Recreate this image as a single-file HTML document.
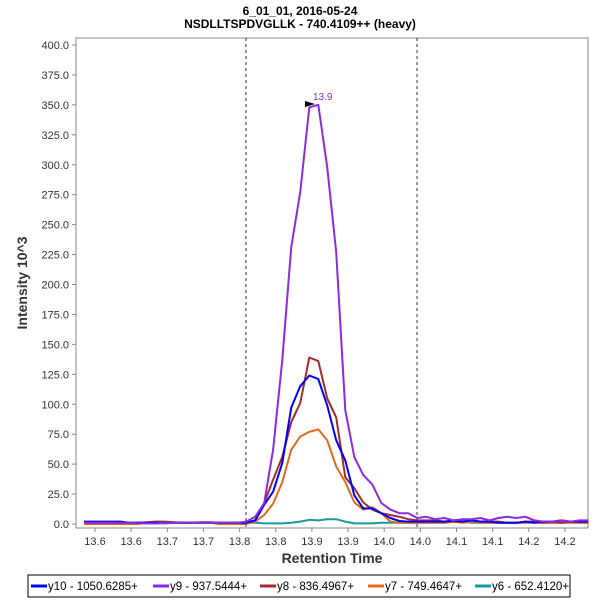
<!DOCTYPE html>
<html><head><meta charset="utf-8"><style>
body{margin:0;background:#fff;font-family:"Liberation Sans",sans-serif}
</style></head><body>
<svg id="c" width="600" height="600" xmlns="http://www.w3.org/2000/svg" font-family="Liberation Sans, sans-serif">
<rect width="600" height="600" fill="#fff"/>
<text x="300" y="15" text-anchor="middle" font-size="12" font-weight="bold">6_01_01, 2016-05-24</text>
<text x="300" y="28" text-anchor="middle" font-size="12" font-weight="bold">NSDLLTSPDVGLLK - 740.4109++ (heavy)</text>
<rect x="76" y="38" width="512" height="490" fill="#fff" stroke="#888"/>
<g id="yaxis"></g>
<g id="xaxis"></g>
<line x1="246" y1="38" x2="246" y2="528" stroke="#000" stroke-dasharray="3,3" stroke-width="0.8"/>
<line x1="417" y1="38" x2="417" y2="528" stroke="#000" stroke-dasharray="3,3" stroke-width="0.8"/>
<g id="series"></g>
<polygon points="305,101 305,107 315,104" fill="#000"/>
<text x="313" y="100" font-size="10" fill="#8a2be2">13.9</text>
<text transform="translate(27,283) rotate(-90)" text-anchor="middle" font-size="14" font-weight="bold" fill="#333">Intensity 10^3</text>
<text x="332" y="563" text-anchor="middle" font-size="14" font-weight="bold" fill="#333">Retention Time</text>
<rect x="28" y="575" width="542" height="22" fill="#fff" stroke="#000"/>
<g id="legend"></g>
</svg>
<script>
const yTicks=[0,25,50,75,100,125,150,175,200,225,250,275,300,325,350,375,400];
const xTickLabels=["13.6","13.6","13.7","13.7","13.8","13.8","13.9","13.9","14.0","14.0","14.1","14.1","14.2","14.2"];
const xTickValues=[13.6125,13.6375,13.6625,13.6875,13.7125,13.7375,13.7625,13.7875,13.8125,13.8375,13.8625,13.8875,13.9125,13.9375];
const names=["y10 - 1050.6285+","y9 - 937.5444+","y8 - 836.4967+","y7 - 749.4647+","y6 - 652.4120+"];
const colors=["#0000ff","#8a2be2","#a52a2a","#e06a1b","#1a9a9a"];
const times=[];for(let i=0;i<57;i++)times.push(+(13.6049+i*0.00623).toFixed(4));
const pre=[2,2,2,2,2,1,1,1,1,1,1,1,1,1,1,1,1,1];
const y10=pre.concat([1,3,16,27,51,97,115,124,121,99,70,53,24,13,13,9,5,2.5,2,2,2, 2,2,3,2,3,2,2,1,1,1,2,1,2,2,3,2,2,2]);
const y9=[1,1,1,1,1,1,0.5,0.5,0.5,1,1,1,1,1,1,1,1,1].concat([2,6,17.5,62,137,231,277,348,350,298,227,95,56,41,33,17.5,12,9,9,5,6, 4,5,3,4,4,5,3,5,6,5,6,3,2,2,3,2,3,3]);
const y8=[1,1,1,1,1,1,1,1.5,2,2,1.5,1,1,1.5,1.5,1,1,1].concat([1,3,17.5,37,56,85,101,139,136,105,89,39,30,18,12,9,7.5,6,4,3,3, 3,2,2,2,3,2,2,2,1,1,2,2,1,2,1,2,2,2]);
const y7=[0,0,0,0,0,0,0,1,1,1,1,1,1,1,1,0,0,0].concat([0,2,7.5,17,35,62,73,77,79,70,48,35,18,12,14,9,2,1,1,1,1, 1,1,2,1,2,1,1,1,1,1,1,1,1,1,1,1,1,1]);
const y6=[1,1,1,1,2,1,1,0.5,0.5,0.5,1,1,1,1,1,1,1,1].concat([1,1,0.5,0.5,0.5,1,2,3.5,3,4,4,2,0.5,0.5,0.5,1,1,1,1,1,1, 1,1,2,2,1,1,1,1,1,1,1,2,1,1,1,2,1,1]);
const series=[y10,y9,y8,y7,y6];
const NS="http://www.w3.org/2000/svg";
function xS(t){return 95+(t-13.6125)/0.025*36.15;}
function yS(v){return 524-v*479/400;}
const svg=document.getElementById('c');
function mk(tag,attrs,parent){const e=document.createElementNS(NS,tag);for(const k in attrs)e.setAttribute(k,attrs[k]);(parent||svg).appendChild(e);return e;}
const ya=document.getElementById('yaxis');
yTicks.forEach(v=>{const y=yS(v);
 const l=mk('line',{x1:72,x2:76,y1:y,y2:y,stroke:'#888'},ya);
 
 
 const t=mk('text',{x:69,y:y+4,'text-anchor':'end','font-size':11,fill:'#333'},ya);t.textContent=v.toFixed(1);
 
 
});
const xa=document.getElementById('xaxis');
xTickValues.forEach((v,i)=>{const x=xS(v);
 const l=mk('line',{x1:x,x2:x,y1:528,y2:532,stroke:'#888'},xa);
 
 
 const t=mk('text',{x:x,y:545,'text-anchor':'middle','font-size':11,fill:'#333'},xa);t.textContent=xTickLabels[i];
 
 
});
const sg=document.getElementById('series');
const order=[4,3,2,0,1];
order.forEach(s=>{const pts=series[s].map((v,i)=>xS(times[i]).toFixed(1)+','+yS(v).toFixed(1)).join(' ');
 const p=mk('polyline',{points:pts,fill:'none',stroke:colors[s],'stroke-width':2,'stroke-linejoin':'round'},sg);
 
 
});
const lg=document.getElementById('legend');
const lx=[31,153,260,368,475];
names.forEach((n,i)=>{
 const g=mk('g',{},lg);
 
 
 mk('line',{x1:lx[i],x2:lx[i]+16,y1:586,y2:586,stroke:colors[i],'stroke-width':3},g);
 const t=mk('text',{x:lx[i]+17,y:590,'font-size':11.5,fill:'#000'},g);t.textContent=n;
});
</script>
</body></html>
